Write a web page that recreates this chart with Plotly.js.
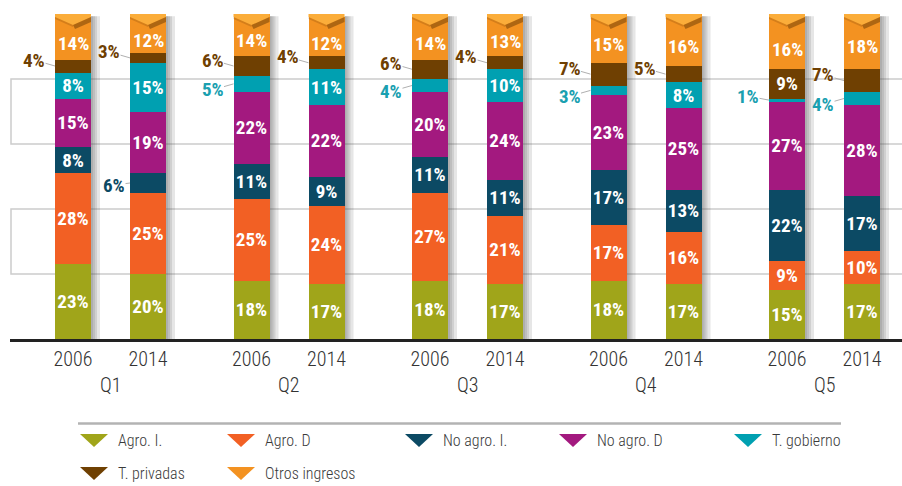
<!DOCTYPE html>
<html><head><meta charset="utf-8">
<script src="https://cdn.plot.ly/plotly-3.0.1.min.js"></script>
<style>html,body{margin:0;padding:0;background:#fff;}#chart{width:902px;height:486px;}</style>
</head><body><div id="chart"></div>
<script>
// ---- data ----
const groups = ['Q1', 'Q2', 'Q3', 'Q4', 'Q5'];
const years = ['2006', '2014'];
const seriesNames = ['Agro. I.', 'Agro. D', 'No agro. I.', 'No agro. D', 'T. gobierno', 'T. privadas', 'Otros ingresos'];
// bar order: Q1-2006, Q1-2014, Q2-2006, Q2-2014, ... Q5-2014
const agroI     = [23, 20, 18, 17, 18, 17, 18, 17, 15, 17];
const agroD     = [28, 25, 25, 24, 27, 21, 17, 16, 9, 10];
const noAgroI   = [8, 6, 11, 9, 11, 11, 17, 13, 22, 17];
const noAgroD   = [15, 19, 22, 22, 20, 24, 23, 25, 27, 28];
const tGobierno = [8, 15, 5, 11, 4, 10, 3, 8, 1, 4];
const tPrivadas = [4, 3, 6, 4, 6, 4, 7, 5, 9, 7];
const otros     = [14, 12, 14, 12, 14, 13, 15, 16, 16, 18];

// ---- font detection ----
function available(fam) {
  const c = document.createElement('canvas').getContext('2d');
  const s = 'abcdefghijklmnopqrstuvwxyz0123456789%ABCDEFGHIJ';
  return ['monospace', 'serif'].some(base => {
    c.font = '20px ' + base; const w0 = c.measureText(s).width;
    c.font = '20px "' + fam + '", ' + base; const w1 = c.measureText(s).width;
    return Math.abs(w1 - w0) > 0.5;
  });
}
const narrowCands = ['Liberation Sans Narrow', 'Roboto Condensed', 'Open Sans Condensed', 'Noto Sans Condensed', 'Arial Narrow', 'Nimbus Sans Narrow', 'DejaVu Sans Condensed'];
const NARROW = narrowCands.find(available) || 'DejaVu Sans Condensed';
const isDejaVu = NARROW === 'DejaVu Sans Condensed';
const FONT = '"' + NARROW + '", "DejaVu Sans Condensed", sans-serif';

// ---- styles ----
const seriesValues = [agroI, agroD, noAgroI, noAgroD, tGobierno, tPrivadas, otros];
const TOP = seriesValues.length - 1;
const seriesColors = ['#a0a51a', '#f26024', '#0c4a64', '#a3197f', '#00a0b1', '#6f4002', '#f39221'];
const labelColors  = ['#a0a51a', '#f26024', '#0c4a64', '#a3197f', '#1aa0b0', '#6f4002', '#f39221'];
const LBL_SIZE = isDejaVu ? 15.5 : 19;
const TICK_SIZE = isDejaVu ? 18 : 20;
const LEG_SIZE = isDejaVu ? 15 : 16;
const LIGHT = isDejaVu ? 400 : 300;
const W = 902, H = 486, ML = 10, MR = 0, MT = 14, MB = 147;
const PW = W - ML - MR, PH = H - MT - MB;
const GROUP_STEP = 2.38, BAR_W = 0.48, PX_PER_UNIT = 75, FIRST_BAR_PX = 73;
const HALF_PX = BAR_W * PX_PER_UNIT / 2;
const CHEVRON_SHIFT = -6.5;

const xpos = [], xlabels = [];
groups.forEach((g, gi) => years.forEach((y, yi) => { xpos.push(gi * GROUP_STEP + yi); xlabels.push(y); }));
const x0r = -(FIRST_BAR_PX - ML) / PX_PER_UNIT;
const xRange = [x0r, x0r + PW / PX_PER_UNIT];

const X = px => (px - ML) / PW;
const Y = py => (MT + PH - py) / PH;

const traces = seriesNames.map((name, si) => ({
  type: 'bar', name: name, x: xpos, y: seriesValues[si], width: BAR_W,
  marker: {color: seriesColors[si], line: {width: 0}},
  text: seriesValues[si].map(v => (v >= 8 && si !== TOP) ? v + '%' : ''),
  textposition: 'inside', insidetextanchor: 'middle', textangle: 0, constraintext: 'none',
  textfont: {family: FONT, size: LBL_SIZE, color: '#ffffff', weight: 700},
  hoverinfo: 'skip', showlegend: false
}));

const shapes = [];
const annotations = [];

// background bands
[[20, 40], [60, 80]].forEach(b => shapes.push({
  type: 'rect', xref: 'paper', yref: 'y', x0: X(11), x1: X(906), y0: b[0], y1: b[1],
  line: {color: '#cccccc', width: 1.5}, fillcolor: 'rgba(0,0,0,0)', layer: 'below'
}));

xpos.forEach((xp, i) => {
  // shadow to the right of each bar
  [2, 4, 6, 9].forEach(w => shapes.push({
    type: 'rect', xref: 'x', xsizemode: 'pixel', xanchor: xp, x0: HALF_PX, x1: HALF_PX + w,
    yref: 'y', y0: 0, y1: 99.3, fillcolor: '#555555', opacity: 0.15, line: {width: 0}, layer: 'below'
  }));
  // chevron at top
  shapes.push({
    type: 'path', xref: 'x', xsizemode: 'pixel', xanchor: xp, yref: 'y', ysizemode: 'pixel', yanchor: 100,
    path: `M ${-HALF_PX},0 L ${HALF_PX},0 L ${HALF_PX},-3 L 0,-11 L ${-HALF_PX},-3 Z`,
    fillcolor: '#fbad3a', line: {width: 0}, layer: 'above'
  });
  shapes.push({
    type: 'path', xref: 'x', xsizemode: 'pixel', xanchor: xp, yref: 'y', ysizemode: 'pixel', yanchor: 100,
    path: `M 0,-11 L ${HALF_PX},-3 L ${HALF_PX},-8 L 2,-15 Z`,
    fillcolor: '#5a3000', opacity: 0.45, line: {width: 0}, layer: 'above'
  });
  shapes.push({
    type: 'path', xref: 'x', xsizemode: 'pixel', xanchor: xp, yref: 'y', ysizemode: 'pixel', yanchor: 100,
    path: `M ${-HALF_PX},-3 L 0,-11 L 0,-13 L ${-HALF_PX},-5 Z`,
    fillcolor: '#5a3000', opacity: 0.2, line: {width: 0}, layer: 'above'
  });

  // labels: top segment (below chevron) and outside labels for small segments
  let cum = 0;
  seriesValues.forEach((vals, si) => {
    const v = vals[i];
    const mid = cum + v / 2;
    cum += v;
    if (si === TOP) {
      annotations.push({
        x: xp, y: mid, xref: 'x', yref: 'y', yshift: CHEVRON_SHIFT, text: v + '%', showarrow: false,
        font: {family: FONT, size: LBL_SIZE, color: '#ffffff', weight: 700}
      });
      return;
    }
    if (v >= 8) return;
    let ax = -21, ay = -5;
    if (si === 5) ay = -6;
    if (si === 4) ay = (tPrivadas[i] < 8) ? 6 : -4;
    if (si === 2) { ax = -16; ay = 2; }
    annotations.push({
      x: xp - BAR_W / 2, y: mid, xref: 'x', yref: 'y', text: v + '%',
      showarrow: true, arrowhead: 0, arrowwidth: 1, arrowcolor: '#b0b0b0', ax: ax, ay: ay,
      standoff: 0, startstandoff: 0, borderpad: 0,
      font: {family: FONT, size: LBL_SIZE, color: labelColors[si], weight: 700}
    });
  });
});

// group labels
groups.forEach((g, gi) => annotations.push({
  x: gi * GROUP_STEP + 0.5, y: 0, xref: 'x', yref: 'paper', yanchor: 'middle', yshift: -46,
  text: g, showarrow: false, font: {family: FONT, size: TICK_SIZE, color: '#333333', weight: LIGHT}
}));

// custom legend
shapes.push({type: 'line', xref: 'paper', yref: 'paper', x0: X(78), x1: X(841), y0: Y(423.5), y1: Y(423.5),
  line: {color: '#b3b3b3', width: 2.5}});
const legendPos = [[94, 440.5], [241, 440.5], [419, 440.5], [573, 440.5], [748, 440.5], [94, 473.5], [241, 473.5]];
seriesNames.forEach((name, si) => {
  const [cx, cy] = legendPos[si];
  shapes.push({
    type: 'path', xref: 'paper', yref: 'paper',
    path: `M ${X(cx - 14)},${Y(cy - 6.5)} L ${X(cx + 14)},${Y(cy - 6.5)} L ${X(cx)},${Y(cy + 6.5)} Z`,
    fillcolor: seriesColors[si], line: {width: 0}
  });
  annotations.push({
    x: X(cx + 22), y: Y(cy), xref: 'paper', yref: 'paper', xanchor: 'left', yanchor: 'middle',
    text: name, showarrow: false, font: {family: FONT, size: LEG_SIZE, color: '#3a3a3a', weight: LIGHT}
  });
});

const layout = {
  width: W, height: H, margin: {l: ML, r: MR, t: MT, b: MB, pad: 0},
  paper_bgcolor: '#ffffff', plot_bgcolor: '#ffffff',
  barmode: 'stack', showlegend: false,
  xaxis: {range: xRange, tickvals: xpos, ticktext: xlabels, ticks: '', showgrid: false, zeroline: false,
    showline: true, linecolor: '#222222', linewidth: 2.5, fixedrange: true,
    tickfont: {family: FONT, size: TICK_SIZE, color: '#333333', weight: LIGHT}},
  yaxis: {range: [0, 100], visible: false, showgrid: false, zeroline: false, fixedrange: true},
  shapes: shapes, annotations: annotations
};

Plotly.newPlot('chart', traces, layout, {displayModeBar: false, staticPlot: true});
</script>
</body></html>
